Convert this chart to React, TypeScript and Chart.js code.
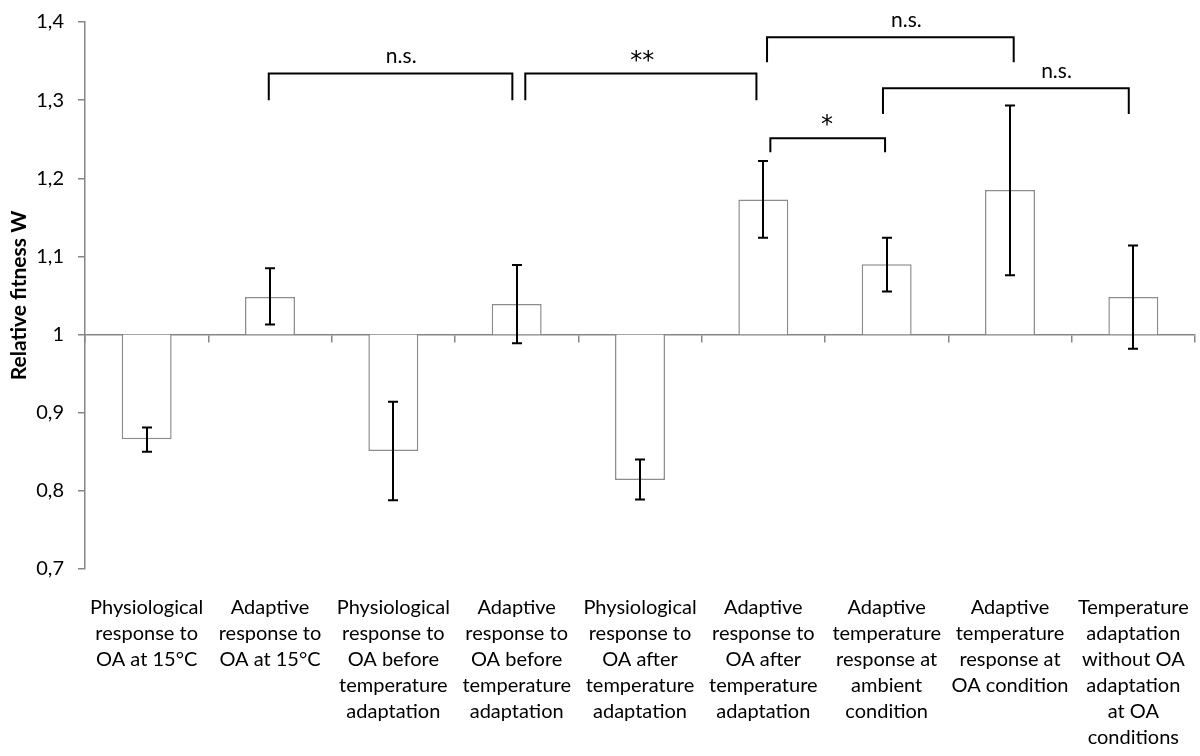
import React, { useEffect, useRef } from 'react';
import { Chart, registerables } from 'chart.js';

Chart.register(...registerables);

// ---- data ----
const categories: string[][] = [
  ['Physiological', 'response to', 'OA at 15°C'],
  ['Adaptive', 'response to', 'OA at 15°C'],
  ['Physiological', 'response to', 'OA before', 'temperature', 'adaptation'],
  ['Adaptive', 'response to', 'OA before', 'temperature', 'adaptation'],
  ['Physiological', 'response to', 'OA after', 'temperature', 'adaptation'],
  ['Adaptive', 'response to', 'OA after', 'temperature', 'adaptation'],
  ['Adaptive', 'temperature', 'response at', 'ambient', 'condition'],
  ['Adaptive', 'temperature', 'response at', 'OA condition'],
  ['Temperature', 'adaptation', 'without OA', 'adaptation', 'at OA', 'conditions'],
];
const baseline = 1;
const fitness = [0.866, 1.048, 0.851, 1.039, 0.814, 1.173, 1.09, 1.185, 1.048];
const errLow = [0.85, 1.013, 0.788, 0.989, 0.789, 1.124, 1.055, 1.076, 0.982];
const errHigh = [0.881, 1.085, 0.914, 1.089, 0.84, 1.222, 1.124, 1.293, 1.114];
const yMin = 0.7;
const yMax = 1.4;
const yStep = 0.1;
const yTitle = 'Relative fitness W';

// significance brackets (category-index positions, y values)
const bracketStart = [0.99, 3.07, 5.03, 5.057, 5.97];
const bracketEnd = [2.965, 4.944, 7.03, 5.987, 7.963];
const bracketTop = [1.334, 1.334, 1.3805, 1.2512, 1.3152];
const bracketFoot = [1.3, 1.3, 1.3485, 1.2333, 1.2823];
const bracketLabels = ['n.s.', '**', 'n.s.', '*', 'n.s.'];
const bracketLabelAt = [2.064, 4.019, 6.16, 5.516, 7.377];

const FONT = 'Lato, "Open Sans", sans-serif';
const STAR_FONT = '"DejaVu Sans", sans-serif';
const AXIS = '#868686';

const formatTick = (v: number) => {
  const r = Math.round(v * 10) / 10;
  if (Math.abs(r - 1) < 1e-9) return '1';
  return r.toFixed(1).replace('.', ',');
};

const errorBarPlugin = {
  id: 'errorBars',
  afterDraw(chart: any) {
    const ctx = chart.ctx;
    const xs = chart.scales.x;
    const ys = chart.scales.y;
    ctx.save();
    ctx.strokeStyle = '#000';
    ctx.lineWidth = 2;
    for (let i = 0; i < fitness.length; i++) {
      const x = Math.round(xs.getPixelForValue(i));
      const y1 = ys.getPixelForValue(errLow[i]);
      const y2 = ys.getPixelForValue(errHigh[i]);
      ctx.beginPath();
      ctx.moveTo(x, y1);
      ctx.lineTo(x, y2);
      ctx.moveTo(x - 5, y1);
      ctx.lineTo(x + 5, y1);
      ctx.moveTo(x - 5, y2);
      ctx.lineTo(x + 5, y2);
      ctx.stroke();
    }
    ctx.restore();
  },
};

const bracketPlugin = {
  id: 'brackets',
  afterDraw(chart: any) {
    const ctx = chart.ctx;
    const xs = chart.scales.x;
    const ys = chart.scales.y;
    ctx.save();
    ctx.strokeStyle = '#000';
    ctx.fillStyle = '#000';
    ctx.lineWidth = 2;
    ctx.textAlign = 'center';
    ctx.textBaseline = 'alphabetic';
    for (let i = 0; i < bracketStart.length; i++) {
      const x1 = xs.getPixelForValue(bracketStart[i]);
      const x2 = xs.getPixelForValue(bracketEnd[i]);
      const yt = ys.getPixelForValue(bracketTop[i]);
      const yf = ys.getPixelForValue(bracketFoot[i]);
      ctx.beginPath();
      ctx.moveTo(x1, yf);
      ctx.lineTo(x1, yt);
      ctx.lineTo(x2, yt);
      ctx.lineTo(x2, yf);
      ctx.stroke();
      const lx = xs.getPixelForValue(bracketLabelAt[i]);
      const isStar = bracketLabels[i].startsWith('*');
      ctx.font = isStar ? `24px ${STAR_FONT}` : `21px ${FONT}`;
      const m = ctx.measureText(bracketLabels[i]);
      const cy = yt - (isStar ? 18 : 16);
      const by = cy + (m.actualBoundingBoxAscent - m.actualBoundingBoxDescent) / 2;
      ctx.fillText(bracketLabels[i], lx, by);
    }
    ctx.restore();
  },
};

export default function App() {
  const canvasRef = useRef<HTMLCanvasElement | null>(null);

  useEffect(() => {
    document.body.style.margin = '0';
    const canvas = canvasRef.current;
    if (!canvas) return;
    const chart = new Chart(canvas, {
      type: 'bar',
      data: {
        labels: categories,
        datasets: [
          {
            data: fitness.map((v) => [baseline, v]) as any,
            backgroundColor: '#ffffff',
            borderColor: '#8c8c8c',
            borderWidth: 1.5,
            borderSkipped: ((c: any) => (fitness[c.dataIndex] >= baseline ? 'bottom' : 'top')) as any,
            barPercentage: 0.405,
            categoryPercentage: 1,
          },
        ],
      },
      options: {
        animation: false,
        responsive: false,
        maintainAspectRatio: false,
        layout: { padding: { top: 22, right: 5, bottom: 0, left: 0 } },
        plugins: {
          legend: { display: false },
          tooltip: { enabled: false },
        },
        scales: {
          x: {
            type: 'category',
            position: 'bottom',
            grid: { display: false },
            border: { display: false },
            ticks: {
              color: '#000',
              font: { family: FONT, size: 20, lineHeight: 1.3 },
              padding: 18,
              maxRotation: 0,
              minRotation: 0,
              autoSkip: false,
            },
            afterFit: (scale: any) => {
              scale.height = 187;
              scale.paddingLeft = 0;
              scale.paddingRight = 0;
            },
          },
          xBase: {
            type: 'category',
            axis: 'x',
            position: { y: 1 } as any,
            z: 1,
            grid: {
              display: true,
              drawOnChartArea: false,
              drawTicks: true,
              tickLength: 7,
              offset: true,
              color: AXIS,
              lineWidth: 1.5,
            },
            border: { display: true, color: AXIS, width: 1.5 },
            ticks: { display: false },
            afterFit: (scale: any) => {
              scale.paddingLeft = 0;
              scale.paddingRight = 0;
            },
          },
          y: {
            type: 'linear',
            min: yMin,
            max: yMax,
            grid: {
              display: true,
              drawOnChartArea: false,
              drawTicks: true,
              tickLength: 7,
              color: AXIS,
              lineWidth: 1.5,
            },
            border: { display: true, color: AXIS, width: 1.5 },
            ticks: {
              stepSize: yStep,
              color: '#000',
              font: { family: FONT, size: 20 },
              padding: 14,
              callback: (v: any) => formatTick(Number(v)),
            },
            title: {
              display: true,
              text: yTitle,
              color: '#000',
              font: { family: FONT, size: 21, weight: 'bold' },
              padding: { top: 7, bottom: 0 },
            },
            afterFit: (scale: any) => {
              scale.width = 85;
              scale.paddingTop = 0;
              scale.paddingBottom = 0;
            },
          },
        },
      },
      plugins: [errorBarPlugin, bracketPlugin],
    });
    return () => chart.destroy();
  }, []);

  return (
    <div style={{ width: 1200, height: 756, background: '#fff' }}>
      <canvas ref={canvasRef} width={1200} height={756} />
    </div>
  );
}
